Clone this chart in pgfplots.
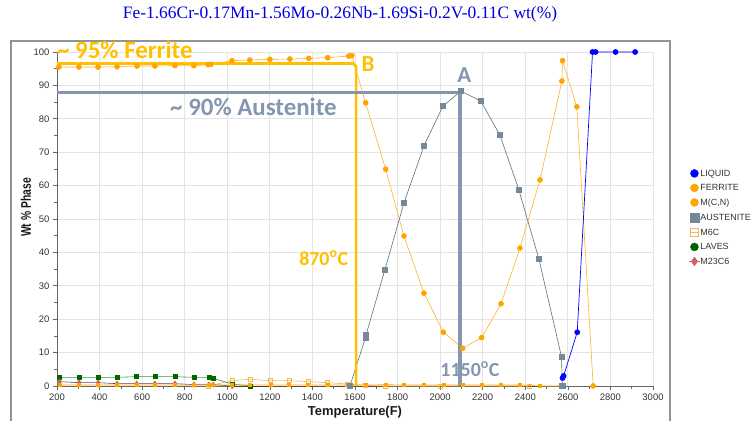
\documentclass[border=0pt]{standalone}
\usepackage{pgfplots}
\pgfplotsset{compat=1.18}
\usepackage{fontspec}
\setmainfont{Liberation Sans}
\newfontfamily\calib{Carlito}
\newfontfamily\serifT{Liberation Serif}
\definecolor{ferr}{HTML}{FFA500}
\definecolor{ferrline}{HTML}{FFB030}
\definecolor{liq}{HTML}{0000FF}
\definecolor{aus}{HTML}{778899}
\definecolor{ausline}{HTML}{5A7272}
\definecolor{m6c}{HTML}{F2B850}
\definecolor{lav}{HTML}{006400}
\definecolor{lavline}{HTML}{2E9B3E}
\definecolor{mtc}{HTML}{D06060}
\definecolor{annY}{HTML}{FFC000}
\definecolor{annG}{HTML}{8497B0}
\definecolor{titleblue}{HTML}{0000DD}
\definecolor{axgray}{HTML}{666666}
\definecolor{gridc}{HTML}{E4E4E4}
\definecolor{tickc}{HTML}{333333}
\pgfplotsset{
  dotleg/.style={legend image code/.code={\draw[##1] plot coordinates {(0.15cm,0cm)};}},
  lineleg/.style={legend image code/.code={\draw[##1,mark repeat=2,mark phase=2] plot coordinates {(0.03cm,0cm)(0.15cm,0cm)(0.27cm,0cm)};}},
  lineleg2/.style={legend image code/.code={\draw[##1,mark repeat=2,mark phase=2] plot coordinates {(-0.03cm,0cm)(0.15cm,0cm)(0.33cm,0cm)};}},
}
\begin{document}
\begin{tikzpicture}
\useasboundingbox (0,0) rectangle (756bp,421bp);
\draw[color=gray!85, line width=1.5bp] (11bp,-10bp) rectangle (670bp,380bp);
\node[font=\serifT\fontsize{17.5}{18}\selectfont, text=titleblue] at (340bp,407bp) {Fe-1.66Cr-0.17Mn-1.56Mo-0.26Nb-1.69Si-0.2V-0.11C wt(\%)};
\node[font=\bfseries\fontsize{13}{14}\selectfont, text=black!90] at (355bp,9bp) {Temperature(F)};
\node[rotate=90, font=\bfseries\fontsize{14}{15}\selectfont, text=black!90] at (26bp,213.5bp) {\scalebox{0.74}[1]{Wt \% Phase}};
\begin{axis}[
  at={(57bp,35bp)}, anchor=south west, scale only axis,
  width=596bp, height=334bp,
  xmin=200, xmax=3000, ymin=0, ymax=100,
  axis lines=left, axis line style={-, draw=axgray, line width=0.9bp},
  xtick={200,400,...,3000}, ytick={0,10,...,100},
  minor x tick num=1, minor y tick num=1,
  tick align=outside, major tick length=4bp, minor tick length=3bp,
  tick style={axgray, line width=0.7bp},
  grid=major, major grid style={gridc, line width=0.8bp},
  ticklabel style={font=\fontsize{9.5}{10}\selectfont, text=tickc},
  /pgf/number format/assume math mode=true,
  /pgf/number format/1000 sep={},
  clip=false,
  legend cell align=left,
  legend style={at={(1.06,0.649)}, anchor=north west, draw=none, fill=none,
    font=\fontsize{9}{10}\selectfont, text=tickc, inner sep=0pt, row sep=6.5bp,
    nodes={inner sep=0.5bp, text height=6.5bp, text depth=0.5bp}},
]
% M23C6 zero line
\addplot[forget plot, color=black!75, line width=0.7bp] coordinates {(1023,0)(1400,0)(1800,0)(2200,0)(2466,0)};
% M6C
\addplot[forget plot, color=m6c, line width=0.6bp, mark=square, mark size=2bp, mark options={line width=0.6bp}] coordinates {
(911,0)(1023,1.6)(1107,2.0)(1204,1.6)(1291,1.6)(1380,1.3)(1471,1.0)(1564,0.6)(1650,0.2)(1744,0)(2000,0)(2420,0)};
% LAVES
\addplot[forget plot, color=lavline, line width=0.6bp, mark=square*, mark size=2bp, mark options={color=lav}] coordinates {
(211,2.6)(304,2.6)(393,2.6)(482,2.6)(574,2.8)(660,2.8)(754,2.8)(843,2.6)(914,2.6)(934,2.3)(1023,0.6)(1107,0)};
% M23C6
\addplot[forget plot, color=black!70, line width=0.6bp, mark=diamond*, mark size=2.6bp, mark options={color=mtc}] coordinates {
(211,1.3)(304,1.0)(393,1.0)(482,0.7)(574,0.7)(660,0.7)(754,0.7)(843,0.4)(914,0.4)(934,0.4)(1023,0)};
% M(C,N)
\addplot[forget plot, color=ferr, line width=0.6bp, mark=square*, mark size=1.5bp] coordinates {
(211,0.3)(304,0.3)(393,0.3)(482,0.3)(574,0.3)(660,0.3)(754,0.3)(843,0.3)(914,0.3)(934,0.3)(1023,0.3)(1107,0.3)(1204,0.3)(1291,0.3)(1380,0.3)(1471,0.3)(1564,0.3)(1650,0.3)(1744,0.4)(1830,0.3)(1924,0.3)(2015,0.3)(2106,0.3)(2195,0.3)(2286,0.3)(2375,0.3)(2466,0)(2570,0)};
% FERRITE
\addplot[forget plot, color=ferrline, line width=0.6bp, mark=*, mark size=2.5bp, mark options={color=ferr}] coordinates {
(209,95.5)(303,95.5)(393,95.5)(482,95.6)(576,95.8)(660,95.8)(754,95.9)(843,95.9)(910,96.2)(923,96.3)(1022,97.4)(1106,97.6)(1200,97.8)(1294,97.9)(1383,98.1)(1472,98.3)(1571,98.8)(1585,98.9)(1650,84.8)(1744,64.9)(1830,44.9)(1924,27.8)(2015,16.1)(2106,11.3)(2195,14.5)(2286,24.6)(2375,41.3)(2469,61.7)(2572,91.3)(2575,97.4)(2642,83.6)(2719,0)};
% AUSTENITE
\addplot[forget plot, color=ausline, line width=0.6bp, mark=square*, mark size=2.6bp, mark options={color=aus}] coordinates {
(1576,0)(1650,14.6)(1652,15.3)(1740,34.7)(1830,54.8)(1924,71.9)(2013,83.8)(2098,88.3)(2191,85.3)(2281,75.1)(2370,58.7)(2464,38)(2570,8.8)(2574,0)};
% LIQUID
\addplot[forget plot, color=liq, line width=0.7bp, mark=*, mark size=2.5bp] coordinates {
(2575,2.4)(2580,3)(2644,16.1)(2716,100)(2730,100)(2824,100)(2916,100)};
% annotations
\draw[annY, line width=2.6bp] (axis cs:200,96.55) -- (axis cs:1592,96.55) -- (axis cs:1605,95.6) -- (axis cs:1605,0);
\draw[annG, line width=3.6bp] (axis cs:200,87.9) -- (axis cs:2093,87.9) -- (axis cs:2093,0);
\node[anchor=west, inner sep=0pt, font=\calib\bfseries\fontsize{25}{26}\selectfont, text=annY] at (axis cs:200,100.6) {\textasciitilde{} 95\% Ferrite};
\node[anchor=west, inner sep=0pt, font=\calib\bfseries\fontsize{25}{26}\selectfont, text=annG] at (axis cs:731,83.6) {\textasciitilde{} 90\% Austenite};
\node[inner sep=0pt, font=\calib\bfseries\fontsize{23}{24}\selectfont, text=annY] at (axis cs:1661,96.4) {B};
\node[inner sep=0pt, font=\calib\bfseries\fontsize{23}{24}\selectfont, text=annG] at (axis cs:2114,93.1) {A};
\node[inner sep=0pt, font=\calib\bfseries\fontsize{20}{21}\selectfont, text=annY] at (axis cs:1453,38.3) {870\textsuperscript{o}C};
\node[inner sep=0pt, font=\calib\bfseries\fontsize{20}{21}\selectfont, text=annG] at (axis cs:2140,5.1) {1150\textsuperscript{o}C};
% legend
\addlegendimage{dotleg, color=liq, mark=*, mark size=4bp}
\addlegendentry{LIQUID}
\addlegendimage{dotleg, color=ferr, mark=*, mark size=4bp}
\addlegendentry{FERRITE}
\addlegendimage{dotleg, color=ferr, mark=*, mark size=4bp}
\addlegendentry{M(C,N)}
\addlegendimage{dotleg, color=aus, mark=square*, mark size=4.5bp}
\addlegendentry{AUSTENITE}
\addlegendimage{lineleg, color=m6c, mark=square, mark size=3.6bp, line width=0.8bp}
\addlegendentry{M6C}
\addlegendimage{dotleg, color=lav, mark=*, mark size=4bp}
\addlegendentry{LAVES}
\addlegendimage{lineleg2, color=mtc, mark=diamond*, mark size=4bp, line width=0.8bp}
\addlegendentry{M23C6}
\end{axis}
\end{tikzpicture}
\end{document}
